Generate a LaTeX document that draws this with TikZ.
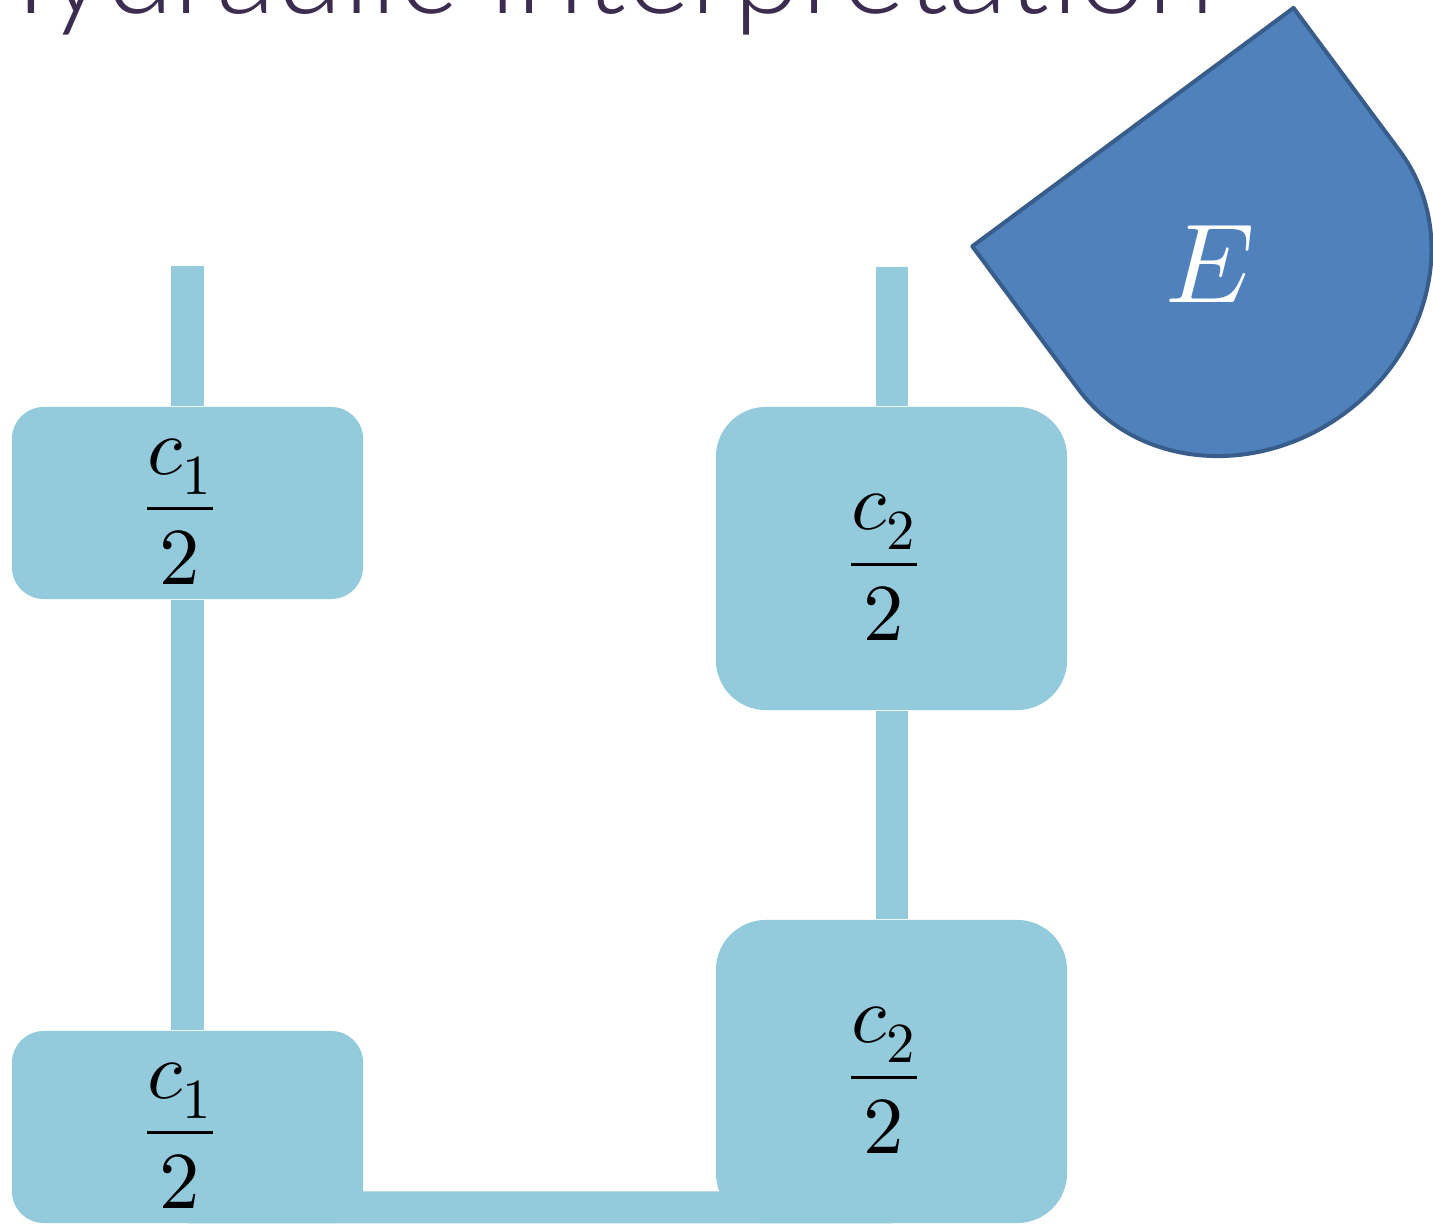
\documentclass[tikz,border=0pt]{standalone}
\usepackage{fontspec}
\usepackage{unicode-math}
\newfontfamily\titlefont{Lato Light}
\usetikzlibrary{backgrounds}

\definecolor{pipeblue}{RGB}{147,203,220}
\definecolor{dropblue}{RGB}{79,129,189}
\definecolor{dropedge}{RGB}{56,93,138}
\definecolor{titlepurple}{RGB}{59,44,80}

\tikzset{
  pipe/.style={draw=pipeblue, line width=0.32cm},
  smallbox/.style={fill=pipeblue, rounded corners=0.32cm, minimum width=3.51cm,
    minimum height=1.92cm, inner sep=0pt,
    label={[font=\fontsize{23}{28}\selectfont, xshift=-0.075cm, yshift=-0.085cm]center:#1}},
  bigbox/.style={smallbox={#1}, rounded corners=0.5cm, minimum height=3.03cm},
}

\begin{document}
\begin{tikzpicture}[x=0.01cm, y=-0.01cm]
  \useasboundingbox (0,0) rectangle (1433,1224);

  % Title (cut at the top)
  \node[anchor=base east, text=titlepurple, inner sep=0pt,
    font=\titlefont\fontsize{35}{40}\selectfont] (title) at (1215,14) {Hydraulic interpretation};

  % Capacitor boxes
  \node[smallbox={$\dfrac{c_1}{2}$}] (c1top) at (187.5,503) {};
  \node[smallbox={$\dfrac{c_1}{2}$}] (c1bot) at (187.5,1127) {};
  \node[bigbox={$\dfrac{c_2}{2}$}] (c2top) at (891.5,558.5) {};
  \node[bigbox={$\dfrac{c_2}{2}$}] (c2bot) at (891.5,1071.5) {};

  % Open pipe ends
  \coordinate (inA) at (187.5,266);
  \coordinate (inB) at (891.5,267);

  % Pipes
  \begin{scope}[on background layer]
    \draw[pipe] (inA) -- (c1top);
    \draw[pipe] (c1top) -- (c1bot);
    \draw[pipe] (inB) -- (c2top);
    \draw[pipe] (c2top) -- (c2bot);
    \draw[pipe] ([yshift=0.165cm]c1bot.south) -- ([yshift=0.165cm]c2bot.south);
  \end{scope}

  % Energy drop
  \draw[fill=dropblue, draw=dropedge, line width=0.04cm, line join=round]
    (1293.5,7.9) -- (972.3,246.3) -- (1078.4,389.2)
    .. controls (1137.0,468.1) and (1256.4,478.7) .. (1345.1,412.9)
    .. controls (1433.8,347.1) and (1458.2,229.7) .. (1399.6,150.8)
    -- cycle;
  \node[text=white, font=\fontsize{32}{36}\selectfont] (energy) at (1210,264) {$E$};
\end{tikzpicture}
\end{document}
